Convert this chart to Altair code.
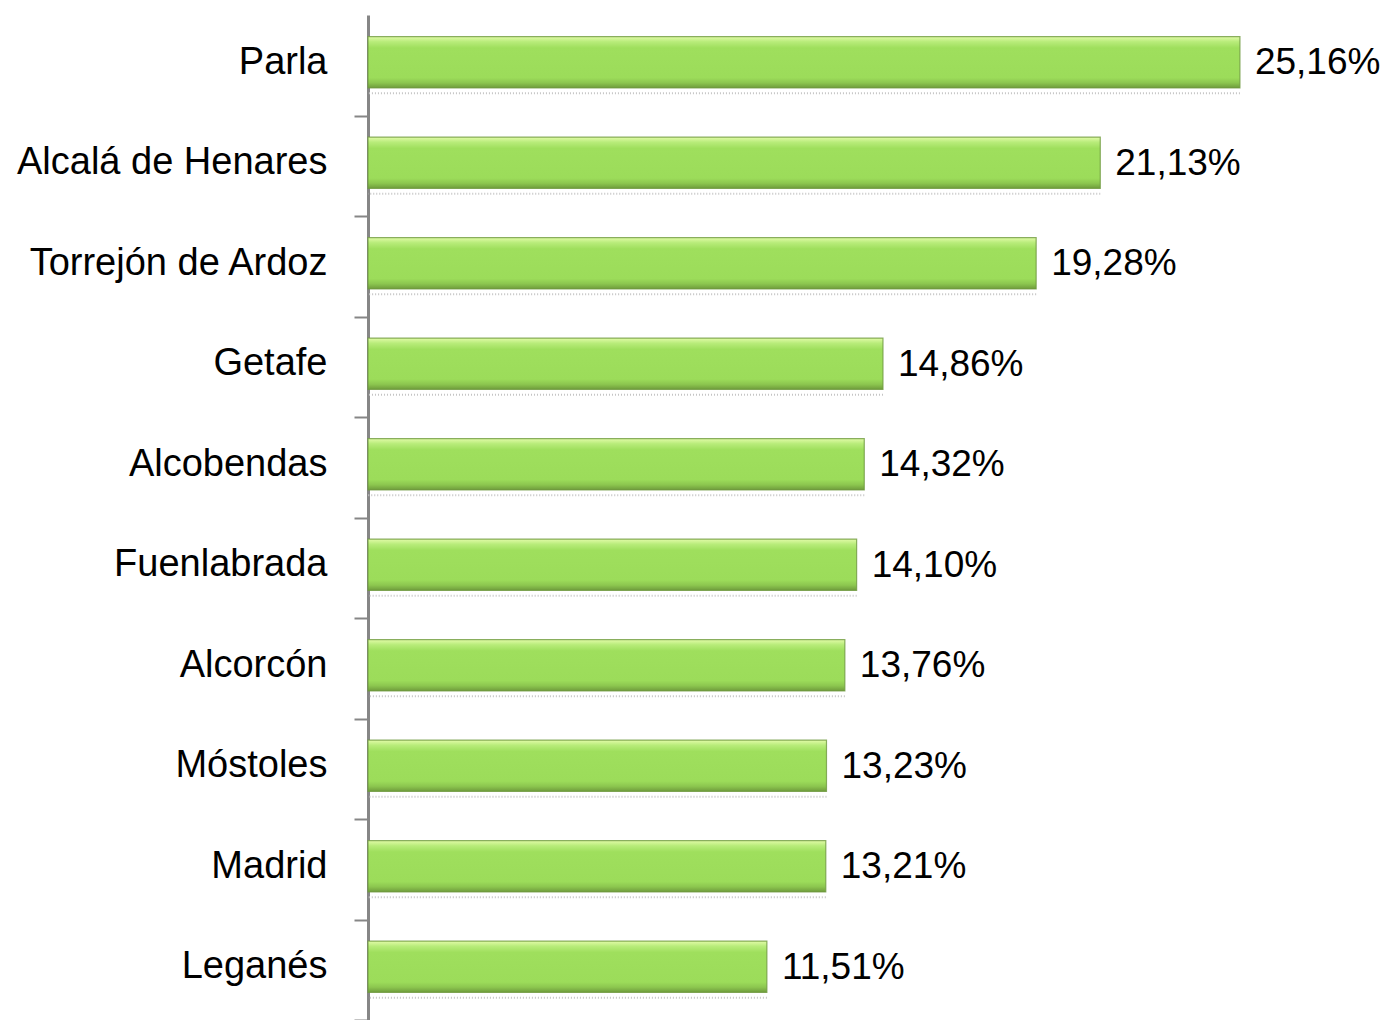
import altair as alt
import pandas as pd

municipios = ["Parla", "Alcalá de Henares", "Torrejón de Ardoz", "Getafe", "Alcobendas",
              "Fuenlabrada", "Alcorcón", "Móstoles", "Madrid", "Leganés"]
valores = [25.16, 21.13, 19.28, 14.86, 14.32, 14.10, 13.76, 13.23, 13.21, 11.51]
etiquetas = [f"{v:.2f}".replace(".", ",") + "%" for v in valores]

df = pd.DataFrame({"municipio": municipios, "valor": valores, "etiqueta": etiquetas})

FONT = "Liberation Sans"
FS = 38
STEP = 100.5

y_enc = alt.Y("municipio:N", sort=municipios, title=None,
              scale=alt.Scale(paddingInner=0.49, paddingOuter=0.245),
              axis=alt.Axis(labelFont=FONT, labelFontSize=FS, labelColor="#000000",
                            labelPadding=27, tickSize=14, tickOffset=STEP / 2,
                            labelOffset=-STEP / 2 - 3,
                            tickColor="#868686", tickWidth=2,
                            domainColor="#868686", domainWidth=3, labelLimit=0))
x_enc = alt.X("valor:Q", scale=alt.Scale(domain=[0, 29], nice=False), axis=None)

grad = alt.Gradient(
    gradient="linear", x1=0, y1=0, x2=0, y2=1,
    stops=[alt.GradientStop(color="#e2fba8", offset=0),
           alt.GradientStop(color="#b8ec7a", offset=0.1),
           alt.GradientStop(color="#9fdf5d", offset=0.22),
           alt.GradientStop(color="#9cdc5a", offset=0.8),
           alt.GradientStop(color="#8cc64f", offset=0.9),
           alt.GradientStop(color="#6f9c3c", offset=1)])

shadow = alt.Chart(df).mark_rule(color="#c4c4c4", strokeDash=[1, 2], strokeWidth=2, yOffset=28).encode(
    y=y_enc, x=x_enc, x2=alt.datum(0))

bars = alt.Chart(df).mark_bar(color=grad, stroke="#6f9a40", strokeWidth=1.2, strokeOpacity=0.8,
                              yOffset=-3).encode(y=y_enc, x=x_enc)

texts = alt.Chart(df).mark_text(align="left", baseline="middle", dx=15, dy=-2,
                                font=FONT, fontSize=FS - 1, color="#000000").encode(
    y=y_enc, x=x_enc, text="etiqueta:N")

chart = alt.layer(shadow, bars, texts).properties(
    width=1005, height=1005,
    autosize=alt.AutoSizeParams(type="none"),
    padding={"left": 360, "top": 7, "right": 8, "bottom": 0},
).configure_view(stroke=None)

chart.save("out.html", embed_options={"renderer": "svg", "actions": False})
